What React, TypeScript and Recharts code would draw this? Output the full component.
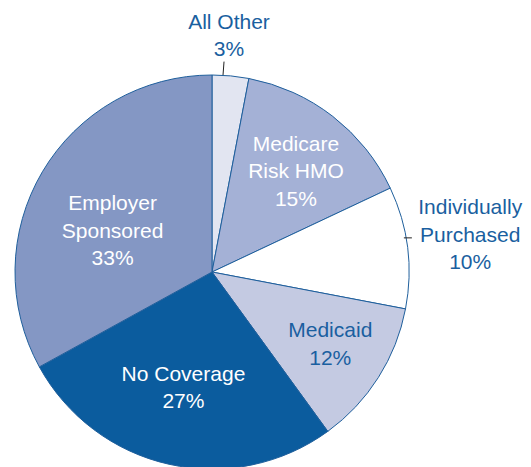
import { PieChart, Pie, Cell } from "recharts";

const categories = [
  "All Other",
  "Medicare Risk HMO",
  "Individually Purchased",
  "Medicaid",
  "No Coverage",
  "Employer Sponsored",
];

const shares = [3, 15, 10, 12, 27, 33];

// label text split into lines
const labelLines = [
  ["All Other"],
  ["Medicare", "Risk HMO"],
  ["Individually", "Purchased"],
  ["Medicaid"],
  ["No Coverage"],
  ["Employer", "Sponsored"],
];

const COLORS = ["#e2e5f1", "#a4b1d6", "#ffffff", "#c4cae2", "#0b5c9e", "#8497c4"];
const TEXT_COLORS = ["#1a5fa0", "#ffffff", "#1a5fa0", "#1a5fa0", "#ffffff", "#ffffff"];

// label placement: distance from centre, and angle tweak in degrees
const LABEL_R = [238, 132, 261, 138, 118, 108];
const LABEL_DA = [1.3, -1.7, 1.2, 1.4, -1.4, 7.6];

const data = categories.map((name, i) => ({ name, value: shares[i] }));

const RAD = Math.PI / 180;
const LINE_H = 27.5;
const FONT = '"Liberation Sans", Arial, sans-serif';

const renderLabel = (props: any) => {
  const { cx, cy, midAngle, index, outerRadius } = props;
  const ang = (midAngle + LABEL_DA[index]) * RAD;
  const x = cx + LABEL_R[index] * Math.cos(ang);
  const y = cy - LABEL_R[index] * Math.sin(ang);
  const lines = [...labelLines[index], `${shares[index]}%`];
  const top = y - ((lines.length - 1) * LINE_H) / 2;

  let leader = null;
  if (index === 0) {
    leader = (
      <line x1={x - 5} y1={y + 27} x2={x - 6} y2={cy - outerRadius} stroke="#222" strokeWidth={1} />
    );
  }
  if (index === 2) {
    const edge = cx + outerRadius * Math.cos(ang);
    leader = <line x1={edge - 3} y1={y + 4} x2={edge + 5} y2={y + 4} stroke="#222" strokeWidth={1} />;
  }

  return (
    <g key={index}>
      {leader}
      <text
        x={x}
        y={top}
        fill={TEXT_COLORS[index]}
        textAnchor="middle"
        dominantBaseline="central"
        fontFamily={FONT}
        fontSize={21}
      >
        {lines.map((l, k) => (
          <tspan key={k} x={x} dy={k === 0 ? 0 : LINE_H}>
            {l}
          </tspan>
        ))}
      </text>
    </g>
  );
};

export default function App() {
  return (
    <div style={{ position: "absolute", left: 0, top: 0, background: "#fff" }}>
      <PieChart width={531} height={467} margin={{ top: 0, right: 0, bottom: 0, left: 0 }}>
        <Pie
          data={data}
          dataKey="value"
          cx={212}
          cy={272}
          outerRadius={197}
          startAngle={90}
          endAngle={-270}
          stroke="#1f5f9c"
          strokeWidth={1}
          label={renderLabel}
          labelLine={false}
          isAnimationActive={false}
        >
          {data.map((_, i) => (
            <Cell key={i} fill={COLORS[i]} />
          ))}
        </Pie>
      </PieChart>
    </div>
  );
}
